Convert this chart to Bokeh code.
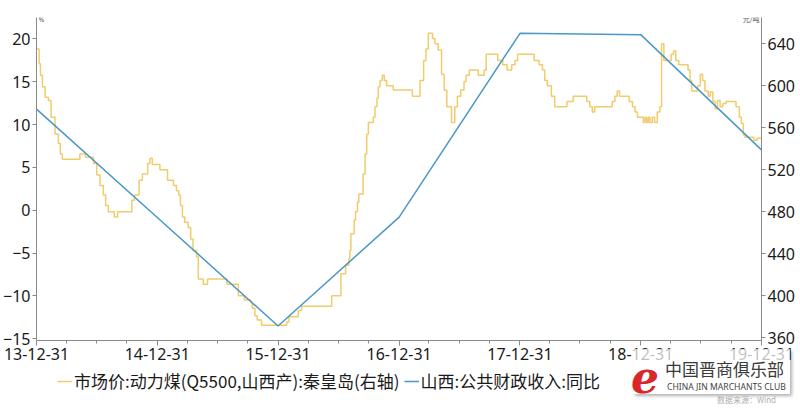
import numpy as np
import pandas as pd
from bokeh.plotting import figure
from bokeh.layouts import column
from bokeh.models import (Range1d, LinearAxis, DatetimeTickFormatter, FixedTicker,
                          Legend, LegendItem, Label, ColumnDataSource, Div)
from bokeh.embed import file_html
from bokeh.resources import INLINE

# ---- data -------------------------------------------------------------
rev_dates = ["2013-12-31", "2014-12-31", "2015-12-31", "2016-12-31",
             "2017-12-31", "2018-12-31", "2019-12-31"]
rev_yoy = [11.8, -0.85, -13.5, -0.8, 20.65, 20.5, 7.05]

coal_dates = [
    "2013-12-31", "2014-01-08", "2014-01-12", "2014-01-18", "2014-01-26", "2014-02-05",
    "2014-02-13", "2014-02-25", "2014-03-07", "2014-03-13", "2014-03-19", "2014-05-11",
    "2014-05-28", "2014-06-21", "2014-07-01", "2014-07-11", "2014-07-21", "2014-07-28",
    "2014-08-05", "2014-08-23", "2014-09-02", "2014-10-15", "2014-10-23", "2014-11-06",
    "2014-11-16", "2014-12-02", "2014-12-09", "2014-12-16", "2015-01-08", "2015-01-31",
    "2015-02-18", "2015-02-27", "2015-03-06", "2015-03-11", "2015-03-17", "2015-03-24",
    "2015-04-03", "2015-04-11", "2015-04-18", "2015-04-29", "2015-05-04", "2015-05-19",
    "2015-06-01", "2015-07-29", "2015-09-02", "2015-09-20", "2015-10-10", "2015-10-14",
    "2015-10-22", "2015-10-29", "2015-11-11", "2016-01-26", "2016-02-02", "2016-03-01",
    "2016-03-11", "2016-06-10", "2016-07-08", "2016-07-22", "2016-08-01", "2016-08-04",
    "2016-08-07", "2016-08-17", "2016-08-21", "2016-08-27", "2016-08-31", "2016-09-13",
    "2016-09-19", "2016-09-24", "2016-09-29", "2016-10-14", "2016-10-19", "2016-10-25",
    "2016-10-29", "2016-11-03", "2016-11-10", "2016-11-16", "2016-11-23", "2016-12-13",
    "2017-02-09", "2017-03-04", "2017-03-15", "2017-03-22", "2017-03-29", "2017-04-11",
    "2017-04-18", "2017-04-28", "2017-05-08", "2017-05-16", "2017-05-24", "2017-06-07",
    "2017-06-17", "2017-06-25", "2017-07-05", "2017-07-15", "2017-07-21", "2017-07-31",
    "2017-08-27", "2017-09-14", "2017-09-20", "2017-10-25", "2017-11-09", "2017-11-22",
    "2017-12-06", "2017-12-16", "2017-12-24", "2018-02-12", "2018-02-27", "2018-03-09",
    "2018-03-16", "2018-03-24", "2018-04-05", "2018-04-15", "2018-05-22", "2018-06-10",
    "2018-07-21", "2018-07-30", "2018-08-07", "2018-08-14", "2018-10-06", "2018-10-14",
    "2018-10-21", "2018-10-28", "2018-11-26", "2018-12-06", "2018-12-14", "2018-12-21",
    "2019-01-08", "2019-01-13", "2019-01-18", "2019-01-23", "2019-01-28", "2019-02-04",
    "2019-02-11", "2019-02-19", "2019-02-27", "2019-03-04", "2019-03-11", "2019-04-02",
    "2019-04-09", "2019-04-16", "2019-04-25", "2019-05-23", "2019-05-29", "2019-06-03",
    "2019-06-21", "2019-06-29", "2019-07-06", "2019-07-13", "2019-07-23", "2019-07-29",
    "2019-08-06", "2019-08-13", "2019-08-20", "2019-08-28", "2019-09-05", "2019-09-15",
    "2019-10-15", "2019-10-25", "2019-10-31", "2019-11-06", "2019-11-11", "2019-12-08",
    "2019-12-18", "2019-12-29",
]
coal_price = [
    635, 621, 610, 599, 589, 586,
    570, 554, 545, 535, 530, 535,
    532, 526, 515, 505, 496, 486,
    480, 475, 480, 491, 496, 510,
    516, 526, 531, 525, 520, 510,
    505, 500, 496, 486, 475, 470,
    465, 454, 443, 437, 416, 411,
    416, 411, 400, 396, 394, 388,
    381, 377, 372, 375, 380, 386,
    390, 400, 421, 429, 435, 443,
    459, 472, 480, 489, 497, 516,
    535, 554, 565, 570, 580, 588,
    599, 605, 610, 605, 600, 596,
    590, 605, 624, 635, 650, 645,
    640, 634, 611, 596, 580, 565,
    580, 590, 596, 604, 610, 615,
    610, 615, 630, 624, 620, 615,
    620, 624, 630, 624, 620, 615,
    605, 600, 590, 580, 585, 590,
    585, 580, 575, 580, 585, 590,
    595, 590, 585, 580, 575, 570,
    565, 570, 565, 570, 565, 570,
    565, 575, 580, 640, 624, 630,
    633, 624, 620, 615, 605, 595,
    600, 611, 605, 595, 590, 594,
    585, 578, 586, 580, 583, 585,
    580, 570, 564, 553, 551, 548,
    550, 550,
]

x_tick_dates = ["2013-12-31", "2014-12-31", "2015-12-31", "2016-12-31",
                "2017-12-31", "2018-12-31", "2019-12-31"]
left_ticks = [-15, -10, -5, 0, 5, 10, 15, 20]
right_ticks = [360, 400, 440, 480, 520, 560, 600, 640]

coal_label = "市场价:动力煤(Q5500,山西产):秦皇岛(右轴)"
rev_label = "山西:公共财政收入:同比"


def ms(dates):
    return pd.to_datetime(dates).values.astype("datetime64[ms]").astype("int64")


FONT = "Noto Sans"
CJK = "Noto Sans CJK SC"
YELLOW = "#F0CC6C"
BLUE = "#4A97C8"
AXIS = "#8a8a8a"
W = 797

x_ticks = ms(x_tick_dates)
minor = ms(pd.date_range("2013-12-31", "2019-12-31", freq="QE").strftime("%Y-%m-%d").tolist())

p = figure(width=W, height=370, title=None,
           x_range=Range1d(int(x_ticks[0]), int(x_ticks[-1])),
           y_range=Range1d(-15.2, 22.5),
           x_axis_type="datetime",
           output_backend="svg", toolbar_location=None,
           min_border_left=30, min_border_right=30, min_border_top=17, min_border_bottom=30)
p.extra_y_ranges = {"right": Range1d(357.4, 665)}
p.outline_line_color = None
p.xgrid.visible = False
p.ygrid.visible = False

src_c = ColumnDataSource(dict(x=ms(coal_dates), y=coal_price))
src_r = ColumnDataSource(dict(x=ms(rev_dates), y=rev_yoy))
r_coal = p.step("x", "y", source=src_c, mode="after", y_range_name="right",
                line_color=YELLOW, line_width=1.5)
r_rev = p.line("x", "y", source=src_r, line_color=BLUE, line_width=1.5)

# x axis
xa = p.xaxis[0]
xa.ticker = FixedTicker(ticks=list(x_ticks), minor_ticks=list(minor))
fmt = "%y-%m-%d"
xa.formatter = DatetimeTickFormatter(days=fmt, months=fmt, years=fmt, hours=fmt,
                                     hourmin=fmt, minutes=fmt, minsec=fmt, seconds=fmt,
                                     milliseconds=fmt, microseconds=fmt)
xa.major_tick_in = 0
xa.major_tick_out = 5
xa.minor_tick_in = 0
xa.minor_tick_out = 3
xa.major_label_standoff = 2

# left axis
ya = p.yaxis[0]
ya.ticker = FixedTicker(ticks=left_ticks)
ya.major_tick_in = 0
ya.major_tick_out = 4
ya.minor_tick_out = 0
ya.major_label_standoff = 2

# right axis
ra = LinearAxis(y_range_name="right", ticker=FixedTicker(ticks=right_ticks))
ra.major_tick_in = 0
ra.major_tick_out = 4
ra.minor_tick_out = 0
ra.major_label_standoff = 2
p.add_layout(ra, "right")

for ax in (xa, ya, ra):
    ax.axis_line_color = AXIS
    ax.major_tick_line_color = AXIS
    ax.minor_tick_line_color = AXIS
    ax.major_label_text_font = FONT
    ax.major_label_text_font_size = "16px"
    ax.major_label_text_color = "#1a1a1a"
    ax.axis_label_standoff = 0

# unit labels at axis tops
p.add_layout(Label(x=int(x_ticks[0]), y=22.3, x_offset=2, text="%",
                   text_font=FONT, text_font_size="7px", text_color="#555",
                   text_baseline="middle"))
p.add_layout(Label(x=int(x_ticks[-1]), y=22.3, x_offset=-2, text="元/吨",
                   text_font=CJK, text_font_size="7px", text_color="#555",
                   text_baseline="middle", text_align="right"))

# ---- legend strip (frame aligned with the chart above) -----------------
q = figure(width=W, height=34, title=None, x_range=Range1d(0, 1), y_range=Range1d(0, 1),
           output_backend="svg", toolbar_location=None,
           x_axis_location=None, y_axis_location=None,
           min_border_left=30, min_border_right=30, min_border_top=0, min_border_bottom=0)
q.outline_line_color = None
q.xgrid.visible = False
q.ygrid.visible = False
lg_c = q.line("x", "y", source=src_c, line_color=YELLOW, line_width=1.5)
lg_r = q.line("x", "y", source=src_r, line_color=BLUE, line_width=1.5)
legend = Legend(items=[LegendItem(label=coal_label, renderers=[lg_c]),
                       LegendItem(label=rev_label, renderers=[lg_r])],
                orientation="horizontal", location=(21, 11),
                label_text_font=CJK, label_text_font_size="17px",
                label_text_color="#1a1a1a", glyph_width=15, glyph_height=16,
                label_standoff=2, spacing=4, padding=0, margin=0,
                border_line_color=None, background_fill_alpha=0)
q.add_layout(legend, "center")

# watermark (HTML overlay pulled up over the bottom-right corner)
wm_html = (
    '<div style="position:relative;width:797px;height:56px;">'
    '<div style="position:absolute;left:633px;top:1px;width:157px;height:45px;'
    'background:rgba(255,255,255,0.72);box-shadow:2px 2px 3px rgba(0,0,0,0.3);"></div>'
    '<span style="position:absolute;left:631px;top:8px;font:italic bold 44px \'DejaVu Serif\';'
    'line-height:1;color:#d8262b;">e</span>'
    '<span style="position:absolute;left:665px;top:12px;font:17px \'Noto Sans CJK SC\';'
    'line-height:1;color:#3a3a3a;white-space:nowrap;">中国晋商俱乐部</span>'
    '<span style="position:absolute;left:667px;top:35px;font:8.6px \'Noto Sans\';'
    'line-height:1;color:#444;white-space:nowrap;">CHINA JIN MARCHANTS CLUB</span>'
    '<span style="position:absolute;left:717px;top:48px;font:8px \'Noto Sans CJK SC\';'
    'line-height:1;color:#b0b0b0;white-space:nowrap;">数据来源：Wind</span>'
    '</div>'
)
wm = Div(text=wm_html, width=W, height=56, margin=(-56, 0, 0, 0))

layout = column(p, q, wm, spacing=0)
open("out.html", "w").write(file_html(layout, INLINE))
